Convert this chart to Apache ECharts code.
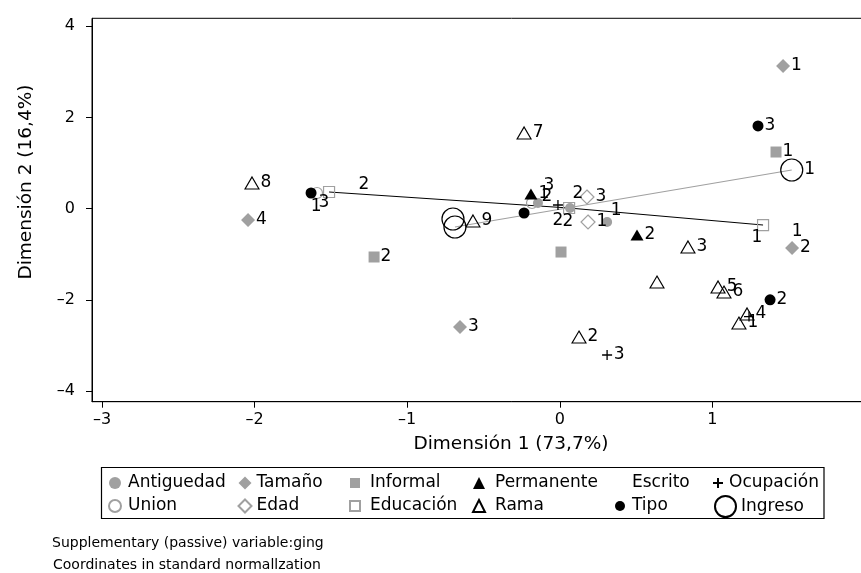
<!DOCTYPE html>
<html><head><meta charset="utf-8">
<script src="https://cdn.jsdelivr.net/npm/echarts@6.0.0/dist/echarts.min.js"></script>
<style>html,body{margin:0;padding:0;background:#fff;overflow:hidden;width:861px;height:573px}#c{width:931px;height:573px}</style>
</head><body><div id="c"></div>
<script>
// ---- data (Dimensión 1, Dimensión 2, category label) ----
const xTicks = [-3, -2, -1, 0, 1, 2];
const yTicks = [-4, -2, 0, 2, 4];
const antiguedad = [[-0.143, 0.125, ''], [0.067, 0.015, ''], [0.310, -0.292, '']];
const union = [[-1.591, 0.344, ''], [-0.182, 0.125, '']];
const tamano = [[1.463, 3.129, '1'], [-2.043, -0.248, '4'], [-0.654, -2.594, '3'], [1.522, -0.862, '2']];
const edad = [[0.178, 0.257, '3'], [0.185, -0.292, '1']];
const informal = [[1.417, 1.243, '1'], [-1.217, -1.059, '2'], [0.008, -0.950, '']];
const educacion = [[-1.512, 0.366, ''], [0.061, 0.015, ''], [1.332, -0.358, '']];
const permanente = [[-0.189, 0.322, '1'], [0.506, -0.577, '2']];
const rama = [[-2.017, 0.564, '8'], [-0.234, 1.660, '7'], [-0.569, -0.270, '9'], [0.840, -0.840, '3'],
  [0.637, -1.608, ''], [0.126, -2.814, '2'], [1.037, -1.717, '5'], [1.076, -1.827, '6'],
  [1.227, -2.309, '4'], [1.174, -2.507, '1']];
const escrito = [[-1.283, 0.520, '2'], [1.555, -0.511, '1'], [1.292, -0.643, '1'], [0.369, -0.050, '1'],
  [0.119, 0.322, '2'], [-0.071, 0.498, '3'], [-0.012, -0.270, '2'], [0.054, -0.292, '2'],
  [-1.597, 0.037, '1'], [-1.545, 0.125, '3'], [-0.084, 0.257, '2']];
const tipo = [[1.299, 1.814, '3'], [1.378, -1.998, '2'], [-1.630, 0.344, ''], [-0.234, -0.094, '']];
const ocupacion = [[-0.012, 0.081, ''], [0.310, -3.208, '3'], [1.240, -2.366, '']];
const ingreso = [[1.520, 0.849, '1'], [-0.700, -0.226, ''], [-0.687, -0.401, '']];

const F = 'DejaVu Sans';
const G = '#a0a0a0';
const T = 'rgba(0,0,0,0)';
const PLUS = 'path://M0,5H10M5,0V10';

function sc(name, data, symbol, size, fill, stroke, bw) {
  return {
    name, type: 'scatter', data, symbol, symbolSize: size, z: 3,
    itemStyle: { color: fill, borderColor: stroke, borderWidth: bw, opacity: 1 },
    label: { show: true, position: 'right', distance: 1, formatter: p => p.value[2],
      fontFamily: F, fontSize: 17, color: '#000' },
    emphasis: { disabled: true }
  };
}

const series = [
  { type: 'line', data: educacion, symbol: 'none', z: 1, silent: true,
    lineStyle: { color: '#000', width: 1 } },
  { type: 'line', data: [ingreso[2], ingreso[0]], symbol: 'none', z: 1, silent: true,
    lineStyle: { color: G, width: 1.2 } },
  sc('Antiguedad', antiguedad, 'circle', 10, G, G, 0),
  sc('Union', union, 'circle', 11, T, G, 1.2),
  sc('Tamaño', tamano, 'diamond', 14, G, G, 0),
  sc('Edad', edad, 'diamond', 14, T, G, 1.2),
  sc('Informal', informal, 'rect', 11, G, G, 0),
  sc('Educación', educacion, 'rect', 11, T, G, 1.2),
  sc('Permanente', permanente, 'triangle', [13, 11], '#000', '#000', 0),
  sc('Rama', rama, 'triangle', [14, 12], T, '#000', 1.1),
  Object.assign(sc('Escrito', escrito, 'circle', 1, T, T, 0), {
    label: { show: true, position: 'inside', formatter: p => p.value[2], fontFamily: F, fontSize: 17, color: '#000' } }),
  sc('Tipo', tipo, 'circle', 11, '#000', '#000', 0),
  sc('Ocupación', ocupacion, PLUS, 10, T, '#000', 1.3),
  sc('Ingreso', ingreso, 'circle', 22, T, '#000', 1.2)
];

function lg(names, left, top, s, extra) {
  return { orient: 'vertical', left, top, itemWidth: s, itemHeight: s, itemGap: 3, padding: 0,
    selectedMode: false, data: names,
    textStyle: { fontFamily: F, fontSize: 17, color: '#000', lineHeight: 20, padding: [0, 0, 0, extra] } };
}

const chart = echarts.init(document.getElementById('c'), null, { renderer: 'canvas' });
chart.setOption({
  animation: false,
  backgroundColor: '#fff',
  grid: { left: 92, top: 18.3, right: 0, bottom: 171.3, show: true, borderColor: '#000', borderWidth: 1 },
  xAxis: {
    type: 'value', min: -3.0655, max: 2.4326,
    axisLine: { show: true, onZero: false, lineStyle: { color: '#000', width: 1 } },
    axisTick: { show: true, length: 6, customValues: xTicks, lineStyle: { color: '#000' } },
    axisLabel: { customValues: xTicks, margin: 10, fontFamily: F, fontSize: 16, color: '#000',
      formatter: v => String(v).replace('-', '\u2013') },
    splitLine: { show: false }
  },
  yAxis: {
    type: 'value', min: -4.232, max: 4.175,
    axisLine: { show: true, onZero: false, lineStyle: { color: '#000', width: 1 } },
    axisTick: { show: true, length: 6, customValues: yTicks, lineStyle: { color: '#000' } },
    axisLabel: { customValues: yTicks, margin: 17, fontFamily: F, fontSize: 16, color: '#000',
      formatter: v => String(v).replace('-', '\u2013') },
    splitLine: { show: false }
  },
  legend: [
    lg(['Antiguedad', 'Union'], 108, 473, 12, 2),
    lg(['Tamaño', 'Edad'], 237.5, 473, 13, 0),
    lg(['Informal', 'Educación'], 349, 473, 10, 5),
    lg(['Permanente', 'Rama'], 472, 473, 12, 5),
    lg([{ name: 'Escrito', icon: 'none' }, 'Tipo'], 615, 473, 10, 2),
    lg(['Ocupación'], 712, 473, 10, 1),
    lg(['Ingreso'], 714, 495, 21, 0)
  ],
  graphic: [
    { type: 'text', x: 26, y: 182, rotation: Math.PI / 2,
      style: { text: 'Dimensión 2 (16,4%)', fontFamily: F, fontSize: 18.5, fill: '#000', align: 'center', verticalAlign: 'middle' } },
    { type: 'text', x: 511, y: 444,
      style: { text: 'Dimensión 1 (73,7%)', fontFamily: F, fontSize: 18.5, fill: '#000', align: 'center', verticalAlign: 'middle' } },
    { type: 'rect', shape: { x: 101.5, y: 467.5, width: 722.5, height: 51 },
      style: { fill: 'none', stroke: '#000', lineWidth: 1.2 } },
    { type: 'text', x: 52, y: 543,
      style: { text: 'Supplementary (passive) variable:ging', fontFamily: F, fontSize: 14, fill: '#000', align: 'left', verticalAlign: 'middle' } },
    { type: 'text', x: 53, y: 565,
      style: { text: 'Coordinates in standard normallzation', fontFamily: F, fontSize: 14, fill: '#000', align: 'left', verticalAlign: 'middle' } }
  ],
  series
});
</script>
</body></html>
